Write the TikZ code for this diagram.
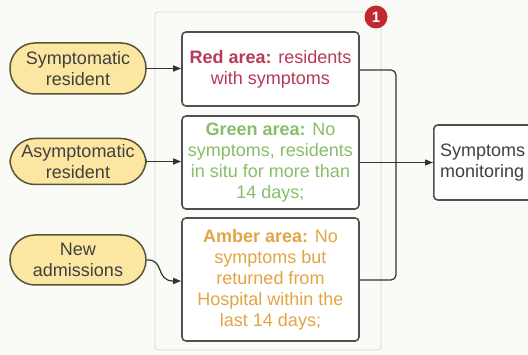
\documentclass[tikz,border=0pt]{standalone}
\usepackage{fontspec}
\setmainfont{Liberation Sans}
\usetikzlibrary{arrows.meta}
\definecolor{bgc}{HTML}{FAFAF6}
\definecolor{stfill}{HTML}{FBE6A2}
\definecolor{stdraw}{HTML}{5B5335}
\definecolor{boxdraw}{HTML}{505050}
\definecolor{contdraw}{HTML}{D4D4D0}
\definecolor{redtxt}{HTML}{B83A55}
\definecolor{greentxt}{HTML}{88BE68}
\definecolor{ambertxt}{HTML}{E2A544}
\definecolor{badge}{HTML}{C1272F}
\definecolor{txt}{HTML}{404040}
\begin{document}
\begin{tikzpicture}[x=1pt,y=-1pt,
  font=\fontsize{18}{21}\selectfont,
  stadium/.style={draw=stdraw, line width=1.5pt, fill=stfill, rounded corners=25pt,
    minimum width=136pt, minimum height=50pt, align=center, text=txt, inner sep=0pt},
  areabox/.style={draw=boxdraw, line width=1.6pt, fill=white, rounded corners=4pt,
    minimum width=177pt, align=center, inner sep=0pt},
  conn/.style={draw=black!80, line width=1.2pt},
  arr/.style={conn, -{Triangle[length=8pt,width=6pt]}}
]
\fill[bgc] (0,0) rectangle (528,355);
\useasboundingbox (0,0) rectangle (528,355);
% container
\node[draw=contdraw, line width=0.8pt, rounded corners=3pt, minimum width=226pt, minimum height=338pt, inner sep=0pt] (cont) at (268,181) {};
\node[circle, fill=badge, minimum size=23pt, inner sep=0pt, text=white, font=\fontsize{15}{15}\selectfont\bfseries] (b1) at (376,17) {1};
% area boxes
\node[areabox, minimum height=74pt] (red) at (270.5,69) {\textcolor{redtxt}{\textbf{Red area:} residents}\\\textcolor{redtxt}{with symptoms}};
\node[areabox, minimum height=93pt, text=greentxt] (green) at (270.5,162.5) {\textbf{Green area:} No\\symptoms, residents\\in situ for more than\\14 days;};
\node[areabox, minimum height=123pt, text=ambertxt] (amber) at (270.5,279.5) {\textbf{Amber area:} No\\symptoms but\\returned from\\Hospital within the\\last 14 days;};
% inputs
\node[stadium, minimum height=51pt] (sym) at (78,68.5) {Symptomatic\\resident};
\node[stadium, minimum height=46pt] (asym) at (78,161.5) {Asymptomatic\\resident};
\node[stadium] (new) at (78,260) {New\\admissions};
% output
\node[draw=boxdraw, line width=1.6pt, fill=white, rounded corners=4pt, minimum width=100pt, minimum height=75pt, anchor=west, inner sep=0pt] (mon) at (433,162.5) {};
\node[anchor=west, align=left, text=txt, inner sep=0pt] (montxt) at (440,162.5) {Symptoms\\monitoring};
% input arrows
\draw[arr] (sym.east) -- (sym.east -| red.west);
\draw[arr] (asym.east) -- (asym.east -| green.west);
\draw[arr] (new.east) .. controls (165,259) and (155,281) .. (amber.west |- 0,281);
% output connectors
\coordinate (j) at (396,162.5);
\draw[conn, rounded corners=5pt] (red.east |- 0,70) -- (396,70) -- (j);
\draw[conn, rounded corners=5pt] (amber.east |- 0,280) -- (396,280) -- (j);
\draw[arr] (green.east) -- (mon.west);
\end{tikzpicture}
\end{document}
